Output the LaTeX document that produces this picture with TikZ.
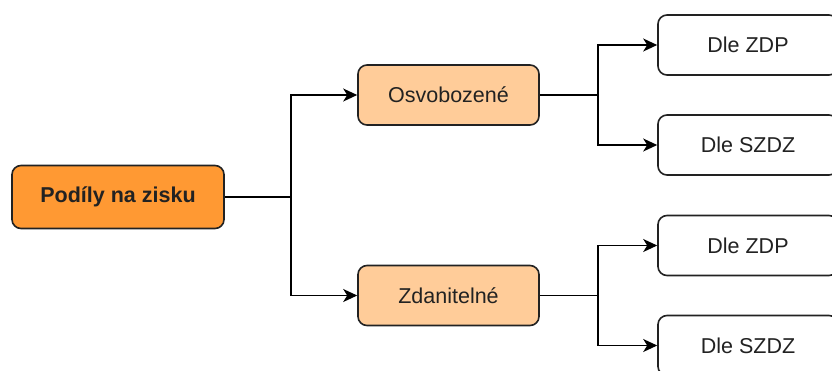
\documentclass[tikz,border=0pt]{standalone}
\usepackage{fontspec}
\setmainfont{Liberation Sans}
\usetikzlibrary{arrows.meta}
\definecolor{rootfill}{HTML}{FF9933}
\definecolor{midfill}{HTML}{FFCC99}
\definecolor{edge}{HTML}{222222}
\definecolor{txt}{HTML}{222222}
\tikzset{
  box/.style={draw=edge, line width=1.6pt, rounded corners=9pt, minimum width=180pt, minimum height=60pt, inner sep=0pt, text=txt, font=\fontsize{21.5pt}{24pt}\selectfont},
  rootbox/.style={box, fill=rootfill, minimum width=212pt, minimum height=63pt, font=\fontsize{21.5pt}{24pt}\selectfont\bfseries},
  midbox/.style={box, fill=midfill, minimum width=181pt},
  leafbox/.style={box, fill=white},
  conn/.style={line width=1.5pt, draw=black},
  arr/.style={conn, -{Stealth[length=14pt,width=13pt,inset=4pt]}}
}
\begin{document}
\begin{tikzpicture}[x=1pt,y=-1pt]
\useasboundingbox (0,0) rectangle (832,370);
\clip (0,0) rectangle (832,370);
\node[rootbox] (root) at (118,197) {Podíly na zisku};
\node[midbox] (osv) at (448.5,95) {Osvobozené};
\node[midbox] (zda) at (448.5,295.5) {Zdanitelné};
\node[leafbox] (l1) at (748,45) {Dle ZDP};
\node[leafbox] (l2) at (748,145) {Dle SZDZ};
\node[leafbox] (l3) at (748,245.5) {Dle ZDP};
\node[leafbox] (l4) at (748,345.5) {Dle SZDZ};
\coordinate (j0) at (291,197);
\coordinate (j1) at (598,95);
\coordinate (j2) at (598,295.5);
\draw[conn] (root.east) -- (j0);
\draw[arr] (j0) |- (osv.west);
\draw[arr] (j0) |- (zda.west);
\draw[conn] (osv.east) -- (j1);
\draw[arr] (j1) |- (l1.west);
\draw[arr] (j1) |- (l2.west);
\draw[conn] (zda.east) -- (j2);
\draw[arr] (j2) |- (l3.west);
\draw[arr] (j2) |- (l4.west);
\end{tikzpicture}
\end{document}
